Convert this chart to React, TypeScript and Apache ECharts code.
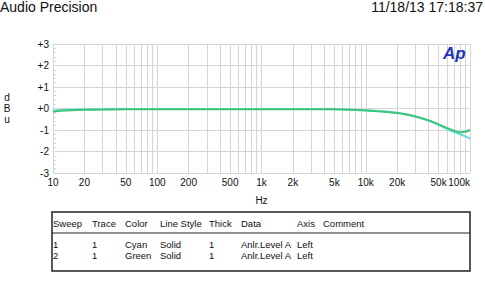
import React, { useEffect, useRef } from "react";
import * as echarts from "echarts";

const FONT = "'Liberation Sans', Arial, sans-serif";

const freqs = [10, 12, 15, 20, 30, 50, 100, 200, 500, 1000, 2000, 5000, 7000, 10000, 15000, 20000, 25000, 30000, 40000, 50000, 60000, 70000, 80000, 90000, 100000];
const cyanDb = [-0.1, -0.07, -0.05, -0.04, -0.03, -0.02, -0.02, -0.02, -0.02, -0.02, -0.02, -0.03, -0.05, -0.08, -0.14, -0.2, -0.28, -0.37, -0.56, -0.76, -0.95, -1.1, -1.2, -1.3, -1.4];
const greenDb = [-0.15, -0.11, -0.08, -0.06, -0.05, -0.04, -0.04, -0.03, -0.03, -0.03, -0.03, -0.04, -0.06, -0.09, -0.15, -0.21, -0.29, -0.37, -0.55, -0.74, -0.9, -1.03, -1.1, -1.08, -1.0];

const gridFreqs = [
  10, 20, 30, 40, 50, 60, 70, 80, 90,
  100, 200, 300, 400, 500, 600, 700, 800, 900,
  1000, 2000, 3000, 4000, 5000, 6000, 7000, 8000, 9000,
  10000, 20000, 30000, 40000, 50000, 60000, 70000, 80000, 90000,
  100000,
];
const labelFreqs = [10, 20, 50, 100, 200, 500, 1000, 2000, 5000, 10000, 20000, 50000, 100000];
const labelTexts = ["10", "20", "50", "100", "200", "500", "1k", "2k", "5k", "10k", "20k", "50k", "100k"];

const tableHeaders = ["Sweep", "Trace", "Color", "Line Style", "Thick", "Data", "Axis", "Comment"];
const tableRows = [
  ["1", "1", "Cyan", "Solid", "1", "Anlr.Level A", "Left", ""],
  ["2", "1", "Green", "Solid", "1", "Anlr.Level A", "Left", ""],
];
const colX = [53, 92, 125, 160, 209, 241, 297, 323];

export default function App() {
  const ref = useRef<HTMLDivElement>(null);
  useEffect(() => {
    const chart = echarts.init(ref.current!, null, { renderer: "svg" });
    const gridColor = "#d6d6d6";
    const tableTexts: any[] = [];
    tableHeaders.forEach((h, i) => {
      tableTexts.push({
        type: "text",
        x: colX[i],
        y: 223,
        style: { text: h, font: `9.5px ${FONT}`, fill: "#111", verticalAlign: "middle" },
      });
    });
    tableRows.forEach((row, r) => {
      row.forEach((c, i) => {
        if (!c) return;
        tableTexts.push({
          type: "text",
          x: colX[i],
          y: 244 + r * 11,
          style: { text: c, font: `9.5px ${FONT}`, fill: "#111", verticalAlign: "middle" },
        });
      });
    });
    chart.setOption({
      animation: false,
      backgroundColor: "#fff",
      title: [
        { text: "Audio Precision", left: 0, top: 0, padding: 0, textStyle: { fontFamily: FONT, fontSize: 14, fontWeight: "normal", color: "#111" } },
        { text: "11/18/13 17:18:37", right: 2, top: 0, padding: 0, textStyle: { fontFamily: FONT, fontSize: 14, fontWeight: "normal", color: "#111" } },
      ],
      grid: { left: 53, right: 15, top: 44, bottom: 120 },
      xAxis: {
        type: "log",
        logBase: 10,
        min: 10,
        max: 100000,
        name: "Hz",
        nameLocation: "middle",
        nameGap: 22,
        nameTextStyle: { fontFamily: FONT, fontSize: 10, color: "#111" },
        axisLine: { show: true, lineStyle: { color: gridColor } },
        axisTick: { show: false, customValues: gridFreqs },
        splitLine: { show: true, lineStyle: { color: gridColor, width: 1 } },
        axisLabel: {
          customValues: labelFreqs,
          formatter: (v: number) => {
            const i = labelFreqs.findIndex((f) => Math.abs(f - v) / f < 1e-6);
            return i >= 0 ? labelTexts[i] : "";
          },
          fontFamily: FONT,
          fontSize: 10,
          color: "#111",
          margin: 4,
          alignMaxLabel: "right",
        },
      },
      yAxis: {
        type: "value",
        min: -3,
        max: 3,
        interval: 1,
        axisLine: { show: true, lineStyle: { color: gridColor } },
        axisTick: { show: true, inside: true, length: 4, lineStyle: { color: gridColor } },
        minorTick: { show: true, splitNumber: 5, length: 3, lineStyle: { color: gridColor } },
        splitLine: { show: true, lineStyle: { color: gridColor } },
        axisLabel: {
          formatter: (v: number) => (v >= 0 ? "+" + v : String(v)),
          fontFamily: FONT,
          fontSize: 10,
          color: "#111",
          margin: 4,
        },
      },
      series: [
        {
          name: "Cyan",
          type: "line",
          data: freqs.map((f, i) => [f, cyanDb[i]]),
          showSymbol: false,
          smooth: 0.3,
          lineStyle: { color: "#62e0d6", width: 2 },
          z: 3,
        },
        {
          name: "Green",
          type: "line",
          data: freqs.map((f, i) => [f, greenDb[i]]),
          showSymbol: false,
          smooth: 0.3,
          lineStyle: { color: "#3fc47a", width: 2 },
          z: 4,
        },
      ],
      graphic: [
        {
          type: "text",
          x: 7,
          y: 97,
          style: { text: "d", font: `10px ${FONT}`, fill: "#111", align: "center", verticalAlign: "middle" },
        },
        {
          type: "text",
          x: 7,
          y: 108,
          style: { text: "B", font: `10px ${FONT}`, fill: "#111", align: "center", verticalAlign: "middle" },
        },
        {
          type: "text",
          x: 7,
          y: 119,
          style: { text: "u", font: `10px ${FONT}`, fill: "#111", align: "center", verticalAlign: "middle" },
        },
        {
          type: "text",
          x: 443,
          y: 45,
          z: 10,
          style: { text: "Ap", font: `italic bold 17px ${FONT}`, fill: "#1f35b5" },
        },
        {
          type: "rect",
          shape: { x: 52, y: 212, width: 418, height: 59 },
          style: { fill: "none", stroke: "#222", lineWidth: 1.5 },
        },
        {
          type: "line",
          shape: { x1: 52, y1: 233, x2: 470, y2: 233 },
          style: { stroke: "#222", lineWidth: 1 },
        },
        ...tableTexts,
      ],
    });
    return () => chart.dispose();
  }, []);
  return <div ref={ref} style={{ width: 485, height: 293, position: "absolute", left: 0, top: 0 }} />;
}
